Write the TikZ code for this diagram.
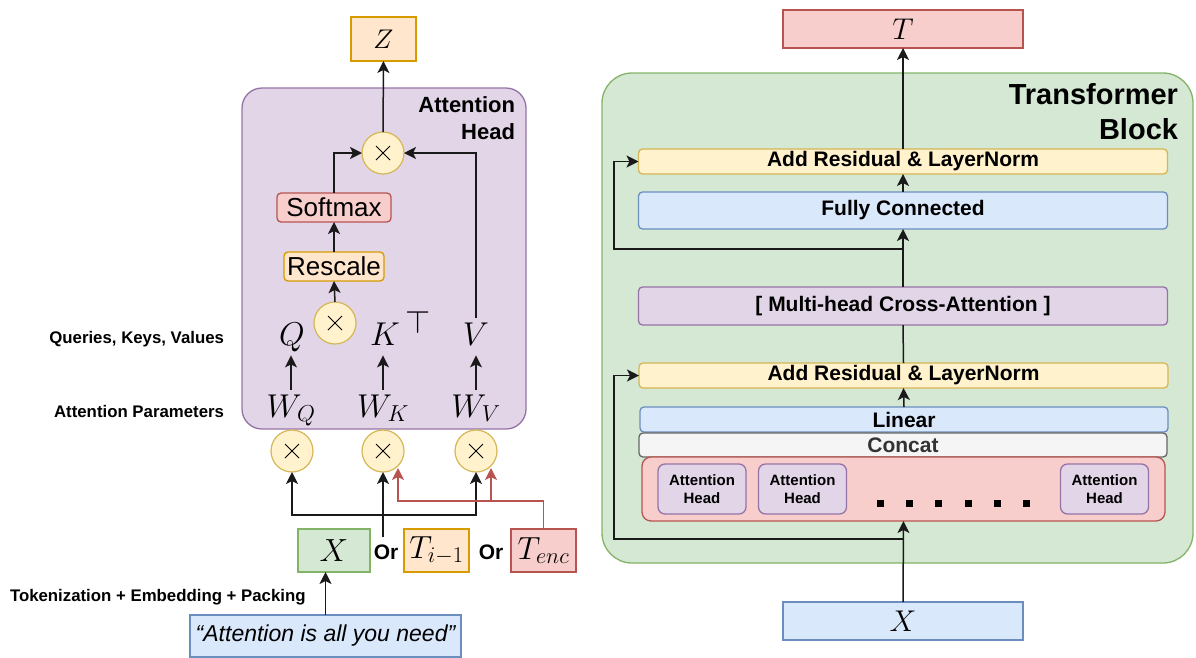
\RequirePackage{fix-cm}
\documentclass[tikz,border=0pt]{standalone}
\usepackage{fontspec}
\setmainfont{Liberation Sans}
\usepackage{graphicx}
\usetikzlibrary{arrows.meta,calc}

% fills and strokes
\definecolor{purF}{HTML}{E1D5E7}\definecolor{purD}{HTML}{9673A6}
\definecolor{grnF}{HTML}{D5E8D4}\definecolor{grnD}{HTML}{82B366}
\definecolor{orgF}{HTML}{FFE6CC}\definecolor{orgD}{HTML}{D79B00}
\definecolor{ylwF}{HTML}{FFF2CC}\definecolor{ylwD}{HTML}{D6B656}
\definecolor{redF}{HTML}{F8CECC}\definecolor{redD}{HTML}{B85450}
\definecolor{bluF}{HTML}{DAE8FC}\definecolor{bluD}{HTML}{6C8EBF}
\definecolor{gryF}{HTML}{F5F5F5}\definecolor{gryD}{HTML}{666666}
\definecolor{gryT}{HTML}{333333}
\definecolor{lineC}{HTML}{1A1A1A}

\newcommand{\setfs}[1]{\fontsize{#1}{#1}\selectfont}

\begin{document}
\begin{tikzpicture}[x=1pt,y=-1pt,
  every node/.style={inner sep=0pt, outer sep=0pt},
  box/.style={draw, line width=1.3pt, align=center},
  pur/.style={box, fill=purF, draw=purD},
  grn/.style={box, fill=grnF, draw=grnD},
  org/.style={box, fill=orgF, draw=orgD},
  ylw/.style={box, fill=ylwF, draw=ylwD},
  red/.style={box, fill=redF, draw=redD},
  blu/.style={box, fill=bluF, draw=bluD},
  gry/.style={box, fill=gryF, draw=gryD, text=gryT},
  mathbig/.style={font=\setfs{33}},
  mathmid/.style={font=\setfs{32}},
  lbl/.style={font=\setfs{16.8}\bfseries},
  bar/.style={font=\setfs{21}\bfseries, rounded corners=4pt, minimum width=529, minimum height=25},
  hd/.style={pur, rounded corners=7pt, minimum width=88, minimum height=50,
    font=\fontsize{15}{18}\selectfont\bfseries},
  mult/.style={circle, draw=ylwD, fill=ylwF, line width=1.2pt, minimum size=42,
    path picture={
      \draw[black, line width=1pt]
        ($(path picture bounding box.center)+(-7,-7)$) -- ++(14,14)
        ($(path picture bounding box.center)+(-7,7)$) -- ++(14,-14);}},
  arr/.style={draw=lineC, line width=1.5pt, -{Stealth[length=12pt,width=12pt,inset=3pt]}},
  rarr/.style={arr, draw=redD},
  plain/.style={draw=lineC, line width=1.5pt},
  dotsq/.style={fill=black, minimum size=7},
]
\useasboundingbox (0,0) rectangle (1196,657);

% ---------------- attention head (left) ----------------
\node[pur, rounded corners=20pt, minimum width=284, minimum height=341] (ahead) at (384,258.5) {};
\node[anchor=north east, align=right, font=\fontsize{22}{27}\selectfont\bfseries] (ahlabel) at (515,97) {Attention\\Head};

\node[org, minimum width=65, minimum height=44, font=\setfs{27}] (Z) at (383.5,39) {$Z$};

\node[mult] (mz) at (383,153) {};
\node[red, rounded corners=4pt, minimum width=114, minimum height=29, font=\setfs{26}] (soft) at (334,207.5) {Softmax};
\node[org, rounded corners=4pt, minimum width=100, minimum height=29, font=\setfs{26}] (resc) at (334,266.5) {Rescale};
\node[mult] (mqk) at (335,323) {};

\node[mathbig, anchor=base, inner sep=4pt] (Q) at (292,345) {$Q$};
\node[mathbig, anchor=base west, inner sep=4pt] (K) at (366,345) {$K^{\hspace{6pt}\scalebox{1.4}{$\scriptstyle\top$}}$};
\node[mathbig, anchor=base, inner sep=4pt] (V) at (476,345) {$V$};

\node[mathbig, anchor=base, inner sep=4pt] (WQ) at (291,417) {$W_Q$};
\node[mathbig, anchor=base, inner sep=4pt] (WK) at (383,417) {$W_K$};
\node[mathbig, anchor=base, inner sep=4pt] (WV) at (476,417) {$W_V$};

\node[mult] (mq) at (292,451) {};
\node[mult] (mk) at (383,451) {};
\node[mult] (mv) at (476,451) {};

\node[lbl, anchor=east] (qkvlbl) at (224,339) {Queries, Keys, Values};
\node[lbl, anchor=east] (parlbl) at (224,411) {Attention Parameters};
\node[lbl, anchor=west] (toklbl) at (10,597) {Tokenization + Embedding + Packing};

\node[grn, minimum width=72, minimum height=43, mathmid] (X) at (334,550.5) {$X$};
\node[font=\setfs{21}\bfseries] (or1) at (386,552) {Or};
\node[org, minimum width=65, minimum height=43, mathmid] (Tprev) at (436.5,550.5) {$T_{i-1}$};
\node[font=\setfs{21}\bfseries] (or2) at (491,552) {Or};
\node[red, minimum width=65, minimum height=43, mathmid] (Tenc) at (543.5,550.5) {$T_{enc}$};

\node[blu, minimum width=271, minimum height=42, font=\setfs{23}\itshape] (sent) at (325.5,636) {“Attention is all you need”};

% connectors inside the head
\draw[arr] (mz.north) -- (Z.south);
\draw[arr] (soft.north) |- (mz.west);
\draw[arr] (V.north) |- (mz.east);
\draw[arr] (resc.north) -- (soft.south);
\draw[arr] (mqk.north) -- (resc.south);
\draw[arr] (WQ.north) -- (WQ.north |- Q.south);
\draw[arr] (WK.north) -- (WK.north |- Q.south);
\draw[arr] (WV.north) -- (WV.north |- Q.south);

% inputs into the projections
\coordinate (xbus) at (334,515);
\draw[arr] (xbus) -| (mq.south);
\draw[arr] (xbus) -| (mv.south);
\coordinate (orbus) at (383,537);
\draw[arr, line width=1.8pt] (orbus) -- (mk.south);
\coordinate (kbus) at (398,501);
\coordinate (kin) at (398,468);
\coordinate (vbus) at (491,501);
\coordinate (vin) at (491,468);
\draw[rarr] (Tenc.north) |- (kbus) -- (kin);
\draw[rarr] (vbus) -- (vin);
\draw[arr] (sent.north) -- (sent.north |- X.south);

% ---------------- transformer block (right) ----------------
\node[grn, rounded corners=30pt, minimum width=591, minimum height=490] (tblock) at (897.5,318) {};
\node[anchor=north east, align=right, font=\fontsize{29}{35}\selectfont\bfseries] (tblabel) at (1178,83) {Transformer\\Block};

\node[red, minimum width=240, minimum height=38, font=\setfs{30}] (T) at (903,29) {$T$};

\node[ylw, bar] (ar1) at (903,161.5) {Add Residual \& LayerNorm};
\node[blu, bar, minimum height=37] (fc) at (903,210.5) {Fully Connected};
\node[pur, bar, minimum height=38] (mh) at (903,306) {[ Multi-head Cross-Attention ]};
\node[ylw, bar] (ar2) at (903.5,375.5) {Add Residual \& LayerNorm};
\node[blu, bar, minimum width=528] (lin) at (904,419.5) {Linear};
\node[gry, bar, minimum width=528, minimum height=24] (cat) at (903,445) {Concat};
\node[red, rounded corners=9pt, minimum width=523, minimum height=64] (heads) at (903.5,489) {};
\node[hd] (h1) at (702,489) {Attention\\Head};
\node[hd] (h2) at (802.5,489) {Attention\\Head};
\node[hd] (h3) at (1104.5,489) {Attention\\Head};
\foreach \px [count=\k] in {880,909,938,968,997,1026}
  \node[dotsq] (dot\k) at (\px,503) {};

\node[blu, minimum width=240, minimum height=38, font=\setfs{30}] (Xr) at (903,621) {$X$};

\draw[arr] (ar1.north) -- (T.south);
\draw[arr] (fc.north) -- (ar1.south);
\draw[arr] (mh.north) -- (fc.south);
\draw[plain] (ar2.north) -- (mh.south);
\draw[arr] (lin.north) -- (ar2.south);
\draw[arr] (Xr.north) -- (heads.south);

\coordinate (res1) at (903,249);
\coordinate (res1l) at (614,249);
\draw[arr] (res1) -- (res1l) |- (ar1.west);
\coordinate (res2) at (903,539);
\coordinate (res2l) at (614,539);
\draw[arr] (res2) -- (res2l) |- (ar2.west);
\end{tikzpicture}
\end{document}
